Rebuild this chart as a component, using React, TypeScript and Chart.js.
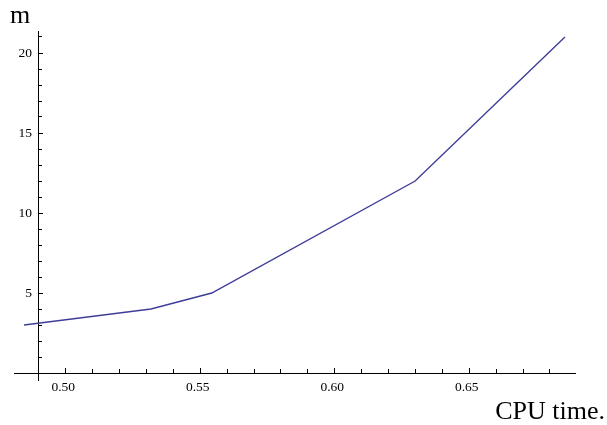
import React, { useEffect, useRef } from "react";
import { Chart, registerables } from "chart.js";

Chart.register(...registerables);

// ---- data ----
const cpuTime = [0.4845, 0.5317, 0.5543, 0.6299, 0.6856];
const mValues = [3, 4, 5, 12, 21];

const xMin = 0.48078;
const xMax = 0.68933;
const yMin = -0.4375;
const yMax = 21.375;
const xCross = 0.49; // where the vertical axis crosses
const yCross = 0; // where the horizontal axis crosses

const xMajorStep = 0.05;
const xMinorStep = 0.01;
const yMajorStep = 5;
const yMinorStep = 1;

const xTitle = "CPU time.";
const yTitle = "m";

const SERIF = '"Liberation Serif", "Times New Roman", serif';
const AXIS_COLOR = "#000";
const LINE_COLOR = "#3e3d99";

const titlesPlugin = {
  id: "axisTitles",
  afterDraw(chart: any) {
    const ctx = chart.ctx;
    const area = chart.chartArea;
    ctx.save();
    ctx.fillStyle = "#000";
    ctx.font = `26px ${SERIF}`;
    ctx.textBaseline = "alphabetic";
    ctx.textAlign = "left";
    ctx.fillText(yTitle, area.left - 4, area.top - 8);
    ctx.textAlign = "right";
    ctx.fillText(xTitle, area.right + 30, area.bottom + 39);
    ctx.restore();
  },
};

export default function App() {
  const canvasRef = useRef<HTMLCanvasElement | null>(null);

  useEffect(() => {
    if (!canvasRef.current) return;
    const tickFont = { family: SERIF, size: 13.5 };
    const chart = new Chart(canvasRef.current, {
      type: "line",
      data: {
        datasets: [
          {
            data: cpuTime.map((x, i) => ({ x, y: mValues[i] })),
            borderColor: LINE_COLOR,
            borderWidth: 1.4,
            pointRadius: 0,
            tension: 0,
            fill: false,
            xAxisID: "x",
            yAxisID: "y",
          },
        ],
      },
      options: {
        responsive: false,
        animation: false,
        devicePixelRatio: 1,
        layout: { padding: { left: 14, right: 32, top: 31, bottom: 45 } },
        plugins: {
          legend: { display: false },
          tooltip: { enabled: false },
          title: { display: false },
        },
        scales: {
          x: {
            type: "linear",
            axis: "x",
            position: { y: yCross },
            min: xMin,
            max: xMax,
            grid: {
              drawOnChartArea: false,
              drawTicks: true,
              tickLength: -6,
              tickColor: AXIS_COLOR,
              tickWidth: 1,
            },
            border: { display: true, color: AXIS_COLOR, width: 1 },
            ticks: {
              stepSize: xMajorStep,
              includeBounds: false,
              autoSkip: false,
              maxRotation: 0,
              padding: 12,
              labelOffset: -2.5,
              color: "#000",
              font: tickFont,
              callback: (v: any) => Number(v).toFixed(2),
            },
          },
          x2: {
            type: "linear",
            axis: "x",
            position: { y: yCross },
            min: xMin,
            max: xMax,
            grid: {
              drawOnChartArea: false,
              drawTicks: true,
              tickLength: -4,
              tickColor: AXIS_COLOR,
              tickWidth: 1,
            },
            border: { display: false },
            ticks: {
              stepSize: xMinorStep,
              includeBounds: false,
              autoSkip: false,
              maxRotation: 0,
              font: tickFont,
              callback: () => "",
            },
          },
          y: {
            type: "linear",
            axis: "y",
            position: { x: xCross },
            min: yMin,
            max: yMax,
            grid: {
              drawOnChartArea: false,
              drawTicks: true,
              tickLength: -5,
              tickColor: AXIS_COLOR,
              tickWidth: 1,
            },
            border: { display: true, color: AXIS_COLOR, width: 1 },
            ticks: {
              stepSize: yMajorStep,
              includeBounds: false,
              autoSkip: false,
              font: tickFont,
              callback: () => "",
            },
          },
          y2: {
            type: "linear",
            axis: "y",
            position: { x: xCross },
            min: yMin,
            max: yMax,
            grid: {
              drawOnChartArea: false,
              drawTicks: true,
              tickLength: -3,
              tickColor: AXIS_COLOR,
              tickWidth: 1,
            },
            border: { display: false },
            ticks: {
              stepSize: yMinorStep,
              includeBounds: false,
              autoSkip: false,
              font: tickFont,
              callback: () => "",
            },
          },
          yLabels: {
            type: "linear",
            axis: "y",
            position: "left",
            min: yMin,
            max: yMax,
            grid: { display: false, drawOnChartArea: false, drawTicks: false },
            border: { display: false },
            afterFit: (scale: any) => {
              scale.width = 0;
            },
            ticks: {
              stepSize: yMajorStep,
              includeBounds: false,
              autoSkip: false,
              mirror: true,
              crossAlign: "far",
              padding: 4.5,
              color: "#000",
              font: tickFont,
              callback: (v: any) => (Number(v) === 0 ? "" : String(v)),
            },
          },
        },
      } as any,
      plugins: [titlesPlugin],
    });
    return () => chart.destroy();
  }, []);

  return (
    <canvas
      ref={canvasRef}
      width={607}
      height={425}
      style={{ display: "block", position: "absolute", left: 0, top: 0 }}
    />
  );
}
